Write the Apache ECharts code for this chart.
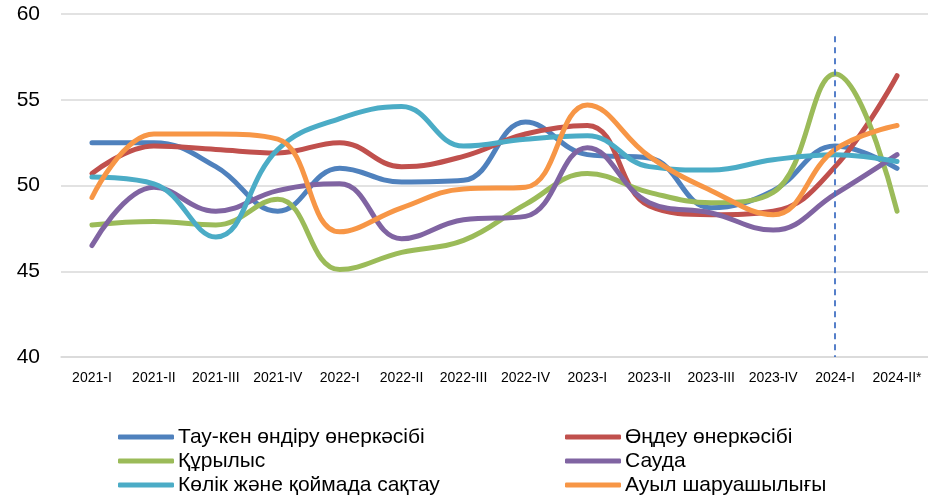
<!DOCTYPE html>
<html>
<head>
<meta charset="utf-8">
<script src="https://cdn.jsdelivr.net/npm/echarts@6/dist/echarts.min.js"></script>
<style>
html,body{margin:0;padding:0;background:#fff;}
#main{width:928px;height:500px;}
</style>
</head>
<body>
<div id="main"></div>
<script>
var categories = ['2021-I','2021-II','2021-III','2021-IV','2022-I','2022-II','2022-III','2022-IV','2023-I','2023-II','2023-III','2023-IV','2024-I','2024-II*'];
var yTicks = [40, 45, 50, 55, 60];
var mining      = [52.5, 52.5, 51.1, 48.5, 51.0, 50.2, 50.3, 53.7, 51.8, 51.6, 48.7, 49.7, 52.3, 51.0];
var manufacture = [50.7, 52.3, 52.1, 51.9, 52.5, 51.1, 51.7, 53.0, 53.5, 48.8, 48.3, 48.5, 51.1, 56.4];
var construction= [47.7, 47.9, 47.7, 49.2, 45.1, 46.1, 46.8, 48.9, 50.7, 49.6, 49.0, 49.6, 56.5, 48.5];
var trade       = [46.5, 49.9, 48.5, 49.7, 50.1, 46.9, 48.0, 48.2, 52.2, 49.0, 48.4, 47.4, 49.5, 51.8];
var transport   = [50.5, 50.1, 47.0, 52.1, 53.9, 54.6, 52.3, 52.7, 52.9, 51.1, 50.9, 51.5, 51.8, 51.4];
var agriculture = [49.3, 53.0, 53.0, 52.7, 47.3, 48.7, 49.8, 49.9, 54.7, 51.7, 49.7, 48.3, 52.1, 53.5];
var names = ['Тау-кен өндіру өнеркәсібі','Өңдеу өнеркәсібі','Құрылыс','Сауда','Көлік және қоймада сақтау','Ауыл шаруашылығы'];
var colors = ['#4F81BD','#C0504D','#9BBB59','#8064A2','#4BACC6','#F79646'];
var seriesData = [mining, manufacture, construction, trade, transport, agriculture];
var markCategory = '2024-I';
var markTop = 58.7;

var series = seriesData.map(function(d, i){
  var s = {
    name: names[i], type: 'line', data: d, smooth: 0.42, symbol: 'none',
    lineStyle: {width: 5, color: colors[i], cap: 'round'},
    itemStyle: {color: colors[i]}
  };
  if (i === 0) {
    s.markLine = {
      silent: true, symbol: ['none','none'], label: {show: false},
      lineStyle: {type: [6,5], color: '#4472C4', width: 1.8},
      data: [[{coord: [markCategory, markTop]}, {coord: [markCategory, yTicks[0]]}]]
    };
  }
  return s;
});

var chart = echarts.init(document.getElementById('main'));
function legendAt(left, data){
  return {
    orient: 'vertical', top: 426, left: left, height: 74, padding: 0,
    itemWidth: 56, itemHeight: 5, icon: 'roundRect', itemGap: 2, data: data,
    textStyle: {fontFamily: 'Liberation Sans, Arial', fontSize: 21, color: '#000', lineHeight: 22, padding: [0,0,0,-1]}
  };
}
chart.setOption({
  animation: false,
  grid: {left: 61, right: -4, top: 14, bottom: 143},
  xAxis: {
    type: 'category', data: categories, boundaryGap: true,
    axisLine: {show: true, lineStyle: {color: '#d9d9d9', width: 1.5}},
    axisTick: {show: false},
    axisLabel: {fontFamily: 'Liberation Sans, Arial', fontSize: 14, color: '#000', margin: 14, interval: 0}
  },
  yAxis: {
    type: 'value', min: yTicks[0], max: yTicks[yTicks.length-1], interval: 5,
    axisLine: {show: false}, axisTick: {show: false},
    splitLine: {lineStyle: {color: '#d9d9d9', width: 1.5}},
    axisLabel: {fontFamily: 'Liberation Sans, Arial', fontSize: 21, color: '#000', margin: 21}
  },
  legend: [
    legendAt(118, [names[0], names[2], names[4]]),
    legendAt(565, [names[1], names[3], names[5]])
  ],
  series: series
});
</script>
</body>
</html>
